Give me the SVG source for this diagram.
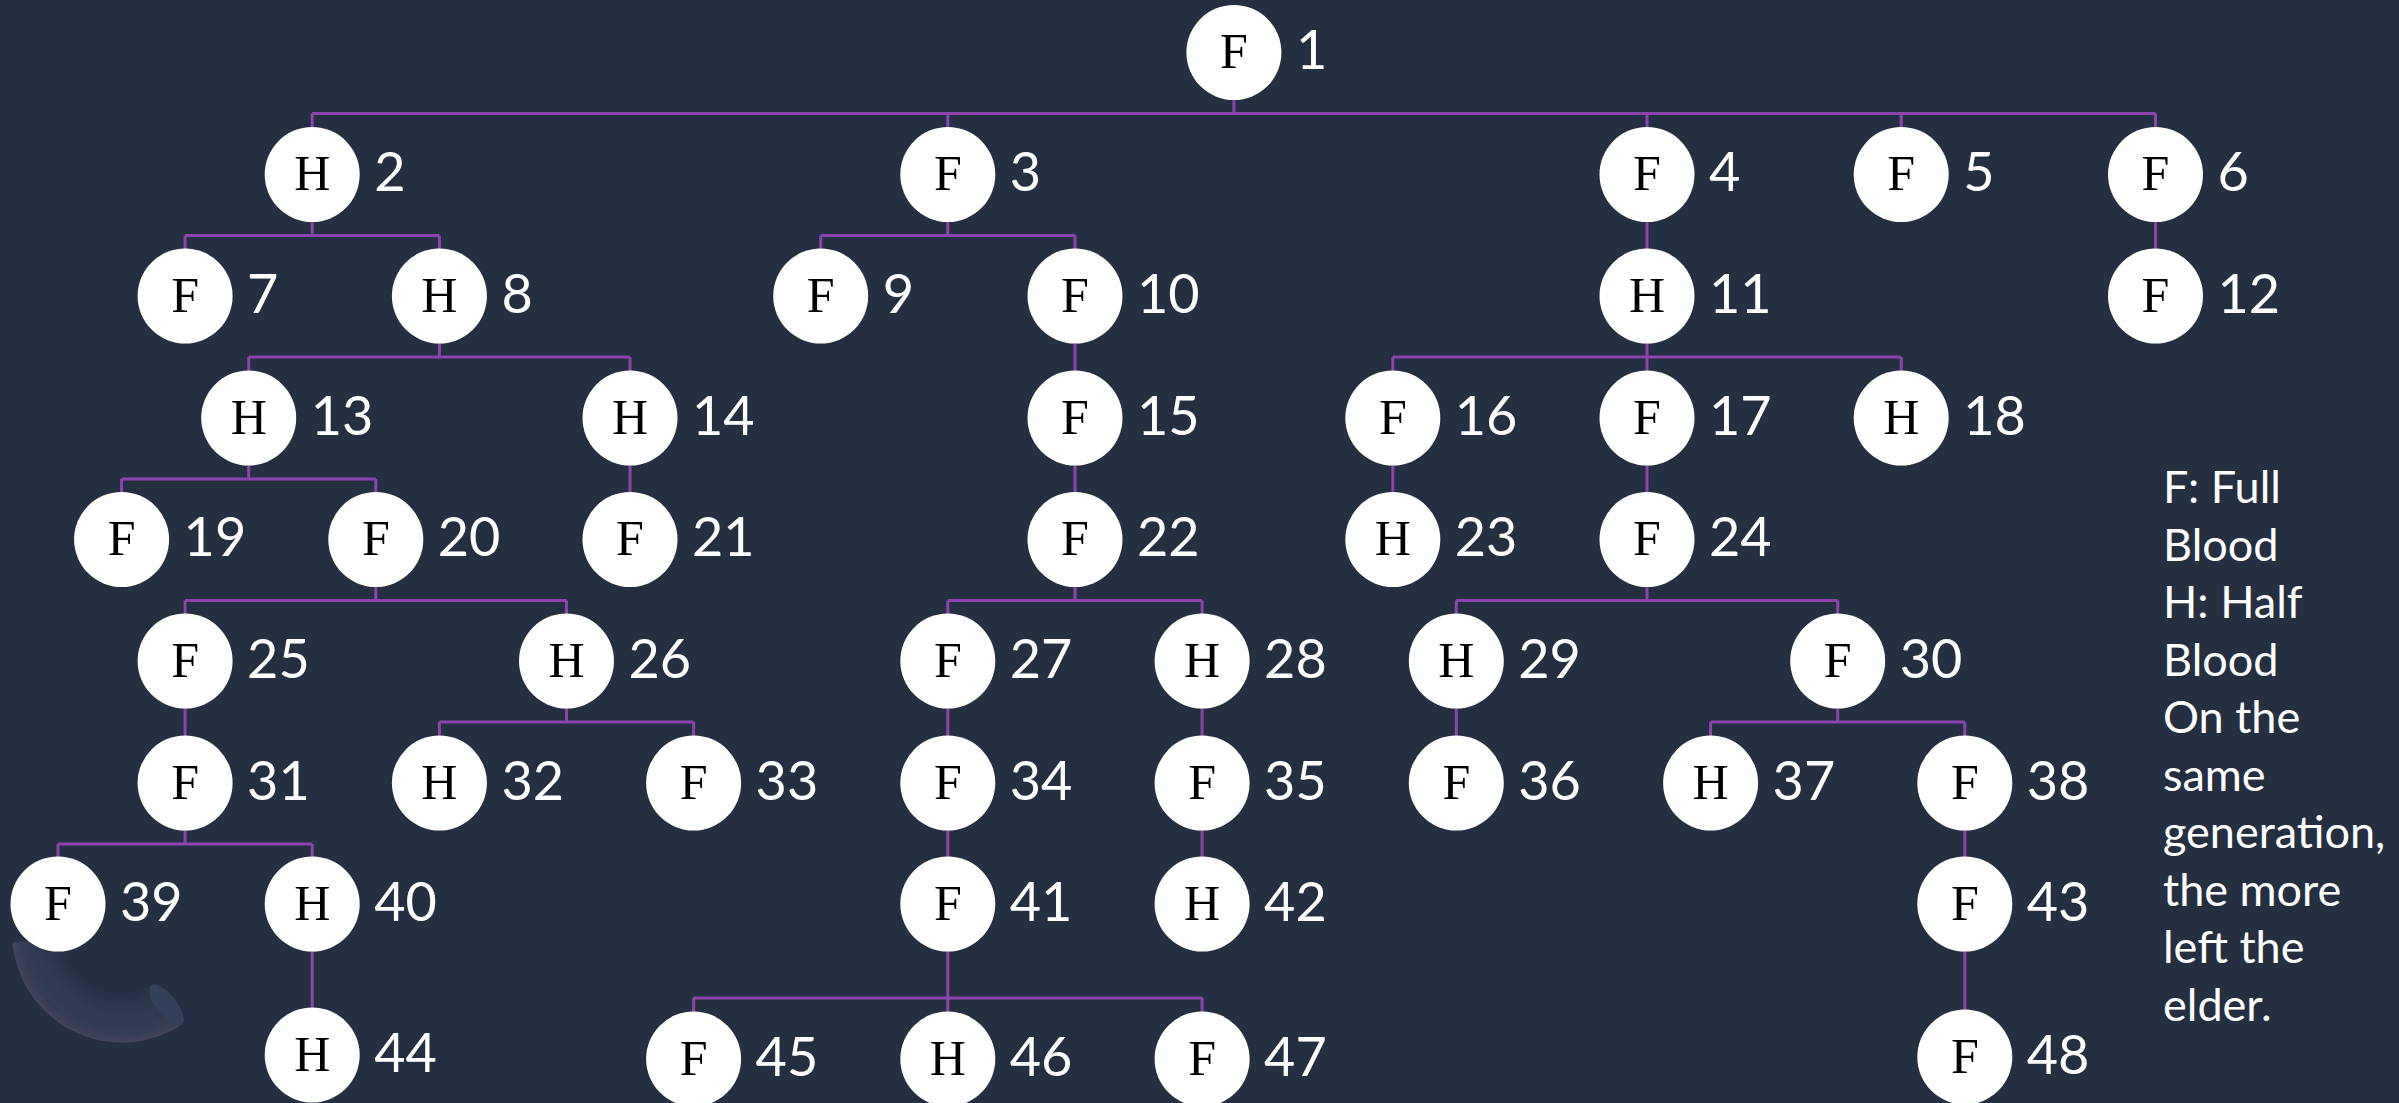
<svg xmlns="http://www.w3.org/2000/svg" width="2399" height="1103" viewBox="0 0 2399 1103">
<defs>
<style>
.bg{fill:#252F42}
.c{fill:#FFFFFF}
.l{font-family:"Liberation Serif","Times New Roman",serif;font-size:50px;fill:#000;text-anchor:middle}
.n{font-family:Lato,"Open Sans",sans-serif;font-size:54px;fill:#FFFFFF}
.e{fill:none;stroke:#8E44AD;stroke-width:3}
.g{font-family:Lato,"Open Sans",sans-serif;font-size:45px;fill:#FFFFFF}
</style>
<radialGradient id="sw" gradientUnits="userSpaceOnUse" cx="122" cy="933" r="110">
<stop offset="0.54" stop-color="#263044"/>
<stop offset="0.75" stop-color="#2D3A50"/>
<stop offset="0.9" stop-color="#333C52"/>
<stop offset="1" stop-color="#43445A"/>
</radialGradient>
</defs>
<rect class="bg" x="0" y="0" width="2399" height="1103"/>
<g id="decor">
<path d="M 12.4 942.6 A 110 110 0 0 0 180 1026 L 153 984 A 60 60 0 0 1 62.2 938.2 Z" fill="url(#sw)"/>
<ellipse cx="166.5" cy="1005" rx="25" ry="10" transform="rotate(52 166.5 1005)" fill="#32405A"/>
</g>
<g id="connectors">
<path class="e" d="M1233.9,52.5V113.5M312.2,113.5H2155.5M312.2,113.5V174.5M947.8,113.5V174.5M1647,113.5V174.5M1901.2,113.5V174.5M2155.5,113.5V174.5"/>
<path class="e" d="M312.2,174.5V235.5M185.1,235.5H439.4M185.1,235.5V296M439.4,235.5V296"/>
<path class="e" d="M947.8,174.5V235.5M820.7,235.5H1075M820.7,235.5V296M1075,235.5V296"/>
<path class="e" d="M1647,174.5V296"/>
<path class="e" d="M2155.5,174.5V296"/>
<path class="e" d="M439.4,296V357M248.7,357H630M248.7,357V418M630,357V418"/>
<path class="e" d="M1075,296V418"/>
<path class="e" d="M1647,296V357M1392.8,357H1901.2M1392.8,357V418M1647,357V418M1901.2,357V418"/>
<path class="e" d="M248.7,418V479M121.6,479H375.8M121.6,479V539.5M375.8,479V539.5"/>
<path class="e" d="M630,418V539.5"/>
<path class="e" d="M1075,418V539.5"/>
<path class="e" d="M1392.8,418V539.5"/>
<path class="e" d="M1647,418V539.5"/>
<path class="e" d="M375.8,539.5V600.5M185.1,600.5H566.5M185.1,600.5V661M566.5,600.5V661"/>
<path class="e" d="M1075,539.5V600.5M947.8,600.5H1202.1M947.8,600.5V661M1202.1,600.5V661"/>
<path class="e" d="M1647,539.5V600.5M1456.3,600.5H1837.7M1456.3,600.5V661M1837.7,600.5V661"/>
<path class="e" d="M185.1,661V783"/>
<path class="e" d="M566.5,661V722M439.4,722H693.6M439.4,722V783M693.6,722V783"/>
<path class="e" d="M947.8,661V783"/>
<path class="e" d="M1202.1,661V783"/>
<path class="e" d="M1456.3,661V783"/>
<path class="e" d="M1837.7,661V722M1710.6,722H1964.8M1710.6,722V783M1964.8,722V783"/>
<path class="e" d="M185.1,783V844M58,844H312.2M58,844V904M312.2,844V904"/>
<path class="e" d="M947.8,783V904"/>
<path class="e" d="M1202.1,783V904"/>
<path class="e" d="M1964.8,783V904"/>
<path class="e" d="M312.2,904V1057"/>
<path class="e" d="M947.8,904V998M693.6,998H1202.1M693.6,998V1057M947.8,998V1057M1202.1,998V1057"/>
<path class="e" d="M1964.8,904V1057"/>
</g>
<g id="n1"><circle class="c" cx="1233.9" cy="52.5" r="47.5"/><text class="l" x="1233.9" y="68">F</text><text class="n" x="1295.9" y="69">1</text></g>
<g id="n2"><circle class="c" cx="312.2" cy="174.5" r="47.5"/><text class="l" x="312.2" y="190">H</text><text class="n" x="374.2" y="191">2</text></g>
<g id="n3"><circle class="c" cx="947.8" cy="174.5" r="47.5"/><text class="l" x="947.8" y="190">F</text><text class="n" x="1009.8" y="191">3</text></g>
<g id="n4"><circle class="c" cx="1647" cy="174.5" r="47.5"/><text class="l" x="1647" y="190">F</text><text class="n" x="1709" y="191">4</text></g>
<g id="n5"><circle class="c" cx="1901.2" cy="174.5" r="47.5"/><text class="l" x="1901.2" y="190">F</text><text class="n" x="1963.2" y="191">5</text></g>
<g id="n6"><circle class="c" cx="2155.5" cy="174.5" r="47.5"/><text class="l" x="2155.5" y="190">F</text><text class="n" x="2217.5" y="191">6</text></g>
<g id="n7"><circle class="c" cx="185.1" cy="296" r="47.5"/><text class="l" x="185.1" y="311.5">F</text><text class="n" x="247.1" y="312.5">7</text></g>
<g id="n8"><circle class="c" cx="439.4" cy="296" r="47.5"/><text class="l" x="439.4" y="311.5">H</text><text class="n" x="501.4" y="312.5">8</text></g>
<g id="n9"><circle class="c" cx="820.7" cy="296" r="47.5"/><text class="l" x="820.7" y="311.5">F</text><text class="n" x="882.7" y="312.5">9</text></g>
<g id="n10"><circle class="c" cx="1075" cy="296" r="47.5"/><text class="l" x="1075" y="311.5">F</text><text class="n" x="1137" y="312.5">10</text></g>
<g id="n11"><circle class="c" cx="1647" cy="296" r="47.5"/><text class="l" x="1647" y="311.5">H</text><text class="n" x="1709" y="312.5">11</text></g>
<g id="n12"><circle class="c" cx="2155.5" cy="296" r="47.5"/><text class="l" x="2155.5" y="311.5">F</text><text class="n" x="2217.5" y="312.5">12</text></g>
<g id="n13"><circle class="c" cx="248.7" cy="418" r="47.5"/><text class="l" x="248.7" y="433.5">H</text><text class="n" x="310.7" y="434.5">13</text></g>
<g id="n14"><circle class="c" cx="630" cy="418" r="47.5"/><text class="l" x="630" y="433.5">H</text><text class="n" x="692" y="434.5">14</text></g>
<g id="n15"><circle class="c" cx="1075" cy="418" r="47.5"/><text class="l" x="1075" y="433.5">F</text><text class="n" x="1137" y="434.5">15</text></g>
<g id="n16"><circle class="c" cx="1392.8" cy="418" r="47.5"/><text class="l" x="1392.8" y="433.5">F</text><text class="n" x="1454.8" y="434.5">16</text></g>
<g id="n17"><circle class="c" cx="1647" cy="418" r="47.5"/><text class="l" x="1647" y="433.5">F</text><text class="n" x="1709" y="434.5">17</text></g>
<g id="n18"><circle class="c" cx="1901.2" cy="418" r="47.5"/><text class="l" x="1901.2" y="433.5">H</text><text class="n" x="1963.2" y="434.5">18</text></g>
<g id="n19"><circle class="c" cx="121.6" cy="539.5" r="47.5"/><text class="l" x="121.6" y="555">F</text><text class="n" x="183.6" y="556">19</text></g>
<g id="n20"><circle class="c" cx="375.8" cy="539.5" r="47.5"/><text class="l" x="375.8" y="555">F</text><text class="n" x="437.8" y="556">20</text></g>
<g id="n21"><circle class="c" cx="630" cy="539.5" r="47.5"/><text class="l" x="630" y="555">F</text><text class="n" x="692" y="556">21</text></g>
<g id="n22"><circle class="c" cx="1075" cy="539.5" r="47.5"/><text class="l" x="1075" y="555">F</text><text class="n" x="1137" y="556">22</text></g>
<g id="n23"><circle class="c" cx="1392.8" cy="539.5" r="47.5"/><text class="l" x="1392.8" y="555">H</text><text class="n" x="1454.8" y="556">23</text></g>
<g id="n24"><circle class="c" cx="1647" cy="539.5" r="47.5"/><text class="l" x="1647" y="555">F</text><text class="n" x="1709" y="556">24</text></g>
<g id="n25"><circle class="c" cx="185.1" cy="661" r="47.5"/><text class="l" x="185.1" y="676.5">F</text><text class="n" x="247.1" y="677.5">25</text></g>
<g id="n26"><circle class="c" cx="566.5" cy="661" r="47.5"/><text class="l" x="566.5" y="676.5">H</text><text class="n" x="628.5" y="677.5">26</text></g>
<g id="n27"><circle class="c" cx="947.8" cy="661" r="47.5"/><text class="l" x="947.8" y="676.5">F</text><text class="n" x="1009.8" y="677.5">27</text></g>
<g id="n28"><circle class="c" cx="1202.1" cy="661" r="47.5"/><text class="l" x="1202.1" y="676.5">H</text><text class="n" x="1264.1" y="677.5">28</text></g>
<g id="n29"><circle class="c" cx="1456.3" cy="661" r="47.5"/><text class="l" x="1456.3" y="676.5">H</text><text class="n" x="1518.3" y="677.5">29</text></g>
<g id="n30"><circle class="c" cx="1837.7" cy="661" r="47.5"/><text class="l" x="1837.7" y="676.5">F</text><text class="n" x="1899.7" y="677.5">30</text></g>
<g id="n31"><circle class="c" cx="185.1" cy="783" r="47.5"/><text class="l" x="185.1" y="798.5">F</text><text class="n" x="247.1" y="799.5">31</text></g>
<g id="n32"><circle class="c" cx="439.4" cy="783" r="47.5"/><text class="l" x="439.4" y="798.5">H</text><text class="n" x="501.4" y="799.5">32</text></g>
<g id="n33"><circle class="c" cx="693.6" cy="783" r="47.5"/><text class="l" x="693.6" y="798.5">F</text><text class="n" x="755.6" y="799.5">33</text></g>
<g id="n34"><circle class="c" cx="947.8" cy="783" r="47.5"/><text class="l" x="947.8" y="798.5">F</text><text class="n" x="1009.8" y="799.5">34</text></g>
<g id="n35"><circle class="c" cx="1202.1" cy="783" r="47.5"/><text class="l" x="1202.1" y="798.5">F</text><text class="n" x="1264.1" y="799.5">35</text></g>
<g id="n36"><circle class="c" cx="1456.3" cy="783" r="47.5"/><text class="l" x="1456.3" y="798.5">F</text><text class="n" x="1518.3" y="799.5">36</text></g>
<g id="n37"><circle class="c" cx="1710.6" cy="783" r="47.5"/><text class="l" x="1710.6" y="798.5">H</text><text class="n" x="1772.6" y="799.5">37</text></g>
<g id="n38"><circle class="c" cx="1964.8" cy="783" r="47.5"/><text class="l" x="1964.8" y="798.5">F</text><text class="n" x="2026.8" y="799.5">38</text></g>
<g id="n39"><circle class="c" cx="58" cy="904" r="47.5"/><text class="l" x="58" y="919.5">F</text><text class="n" x="120" y="920.5">39</text></g>
<g id="n40"><circle class="c" cx="312.2" cy="904" r="47.5"/><text class="l" x="312.2" y="919.5">H</text><text class="n" x="374.2" y="920.5">40</text></g>
<g id="n41"><circle class="c" cx="947.8" cy="904" r="47.5"/><text class="l" x="947.8" y="919.5">F</text><text class="n" x="1009.8" y="920.5">41</text></g>
<g id="n42"><circle class="c" cx="1202.1" cy="904" r="47.5"/><text class="l" x="1202.1" y="919.5">H</text><text class="n" x="1264.1" y="920.5">42</text></g>
<g id="n43"><circle class="c" cx="1964.8" cy="904" r="47.5"/><text class="l" x="1964.8" y="919.5">F</text><text class="n" x="2026.8" y="920.5">43</text></g>
<g id="n44"><circle class="c" cx="312.2" cy="1055" r="47.5"/><text class="l" x="312.2" y="1070.5">H</text><text class="n" x="374.2" y="1071.5">44</text></g>
<g id="n45"><circle class="c" cx="693.6" cy="1059" r="47.5"/><text class="l" x="693.6" y="1074.5">F</text><text class="n" x="755.6" y="1075.5">45</text></g>
<g id="n46"><circle class="c" cx="947.8" cy="1059" r="47.5"/><text class="l" x="947.8" y="1074.5">H</text><text class="n" x="1009.8" y="1075.5">46</text></g>
<g id="n47"><circle class="c" cx="1202.1" cy="1059" r="47.5"/><text class="l" x="1202.1" y="1074.5">F</text><text class="n" x="1264.1" y="1075.5">47</text></g>
<g id="n48"><circle class="c" cx="1964.8" cy="1057" r="47.5"/><text class="l" x="1964.8" y="1072.5">F</text><text class="n" x="2026.8" y="1073.5">48</text></g>
<g id="legend">
<text class="g" x="2163" y="503">F: Full</text>
<text class="g" x="2163" y="560.5">Blood</text>
<text class="g" x="2163" y="618">H: Half</text>
<text class="g" x="2163" y="675.5">Blood</text>
<text class="g" x="2163" y="733">On the</text>
<text class="g" x="2163" y="790.5">same</text>
<text class="g" x="2163" y="848">generation,</text>
<text class="g" x="2163" y="905.5">the more</text>
<text class="g" x="2163" y="963">left the</text>
<text class="g" x="2163" y="1020.5">elder.</text>
</g>
</svg>
